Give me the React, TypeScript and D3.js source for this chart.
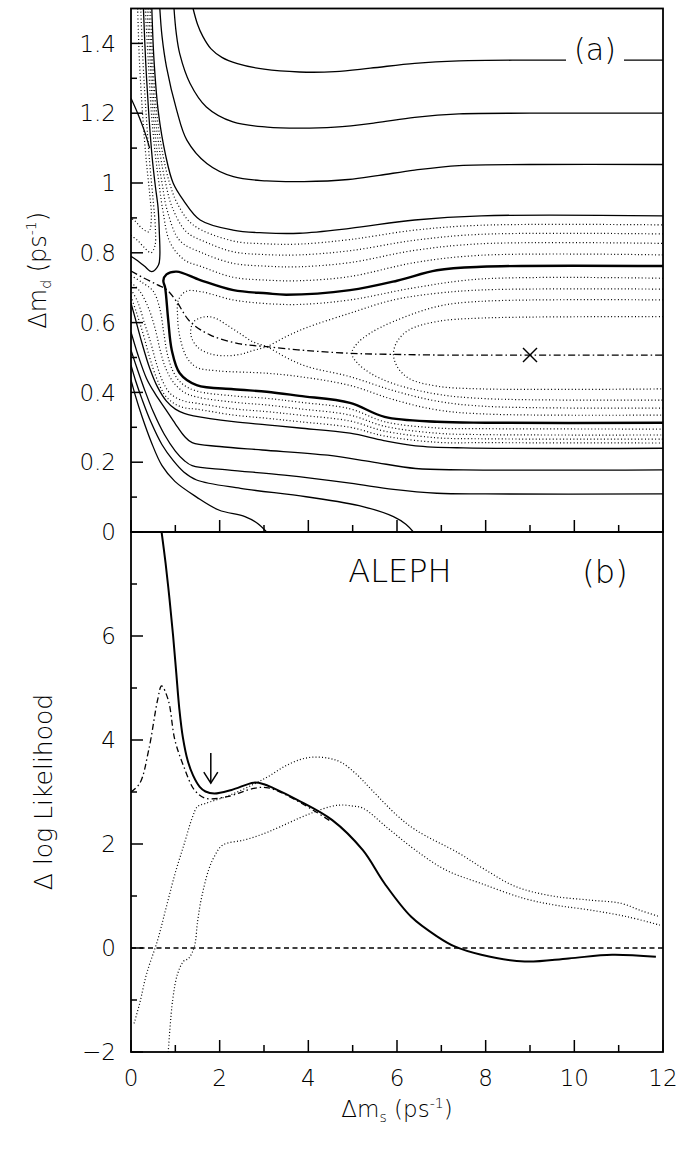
import React from "react";
import * as d3 from "d3";

type P = [number, number];

// ---------- axes ----------
const xMajorTicks = [0, 2, 4, 6, 8, 10, 12];
const xMinorTicks = [1, 3, 5, 7, 9, 11];
const topYMajor = [0, 0.2, 0.4, 0.6, 0.8, 1.0, 1.2, 1.4];
const topYLabels = ["0", "0.2", "0.4", "0.6", "0.8", "1", "1.2", "1.4"];
const topYMinor = [0.1, 0.3, 0.5, 0.7, 0.9, 1.1, 1.3];
const botYMajor = [-2, 0, 2, 4, 6];
const botYLabels = ["\u22122", "0", "2", "4", "6"];
const botYMinor = [-1, 1, 3, 5, 7];

// ---------- panel (a): contour lines, [Δms, Δmd] ----------
const c135: P[] = [[1.40,1.5],[1.5,1.455],[1.62,1.42],[1.8,1.385],[2.05,1.36],[2.4,1.342],[3.0,1.326],[3.8,1.318],[4.6,1.319],[5.4,1.329],[6.4,1.343],[7.4,1.35],[9.0,1.352],[12,1.352]];
const c120: P[] = [[0.97,1.5],[1.02,1.43],[1.1,1.37],[1.33,1.286],[1.7,1.218],[2.3,1.175],[3.07,1.16],[3.8,1.157],[4.6,1.16],[5.5,1.172],[6.4,1.188],[7.4,1.198],[9,1.2],[12,1.2]];
const c105: P[] = [[0.65,1.5],[0.7,1.42],[0.8,1.333],[1.03,1.209],[1.26,1.123],[1.71,1.056],[2.31,1.018],[3.06,1.006],[3.9,1.004],[4.9,1.01],[5.6,1.022],[6.4,1.037],[7.4,1.05],[9,1.053],[12,1.053]];
const c090: P[] = [[0.47,1.5],[0.52,1.35],[0.62,1.2],[0.78,1.08],[0.95,1.0],[1.18,0.951],[1.56,0.894],[2.3,0.865],[3.0,0.857],[3.8,0.856],[4.94,0.87],[6.4,0.894],[7.9,0.906],[12,0.906]];
const d1: P[] = [[0.44,1.5],[0.49,1.35],[0.58,1.2],[0.72,1.08],[0.87,1.0],[1.05,0.94],[1.4,0.88],[2.3,0.834],[3.0,0.826],[3.8,0.825],[4.94,0.838],[6.4,0.865],[7.9,0.879],[12,0.88]];
const d2: P[] = [[0.40,1.5],[0.46,1.35],[0.54,1.2],[0.66,1.08],[0.78,1.0],[0.93,0.93],[1.25,0.86],[1.7,0.83],[2.3,0.803],[3.0,0.795],[3.8,0.794],[4.94,0.806],[6.4,0.836],[7.9,0.853],[12,0.854]];
const d3l: P[] = [[0.36,1.5],[0.43,1.35],[0.5,1.2],[0.6,1.08],[0.7,1.0],[0.82,0.92],[1.1,0.835],[1.6,0.8],[2.3,0.77],[3.0,0.762],[3.8,0.76],[4.94,0.772],[6.4,0.807],[7.9,0.826],[12,0.827]];
const d4: P[] = [[0.32,1.5],[0.39,1.35],[0.46,1.2],[0.55,1.08],[0.63,1.0],[0.72,0.92],[0.88,0.83],[1.2,0.78],[1.6,0.76],[2.3,0.73],[3.0,0.722],[3.8,0.72],[4.94,0.732],[6.4,0.772],[7.9,0.793],[12,0.794]];
const tongue: P[] = [[0.28,1.5],[0.33,1.35],[0.4,1.2],[0.48,1.07],[0.55,0.99],[0.61,0.93],[0.64,0.856],[0.65,0.79],[0.62,0.765],[0.47,0.746],[0.3,0.762],[0.15,0.777],[0.0,0.79]];
const g1: P[] = [[0.22,1.5],[0.27,1.35],[0.34,1.2],[0.42,1.06],[0.5,0.95],[0.55,0.87],[0.54,0.82],[0.45,0.8],[0.3,0.815],[0.15,0.835],[0,0.85]];
const g2: P[] = [[0.15,1.5],[0.19,1.35],[0.26,1.2],[0.34,1.07],[0.42,0.97],[0.46,0.9],[0.4,0.86],[0.25,0.87],[0.1,0.89],[0,0.9]];
const leftSolid: P[] = [[0,1.243],[0.15,1.2],[0.3,1.15],[0.42,1.1]];
const thickC: P[] = [[12,0.762],[7.9,0.76],[6.9,0.75],[6.0,0.72],[4.94,0.693],[3.5,0.68],[3.06,0.684],[2.31,0.693],[1.56,0.722],[1.03,0.746],[0.8,0.738],[0.73,0.72],[0.77,0.70],[0.84,0.607],[0.92,0.521],[1.1,0.455],[1.48,0.421],[2.31,0.409],[3.06,0.402],[3.8,0.39],[4.94,0.37],[5.72,0.33],[6.9,0.316],[8,0.313],[12,0.313]];
const e1: P[] = [[12,0.727],[7.9,0.725],[6.4,0.70],[4.94,0.665],[3.8,0.652],[3.0,0.655],[2.3,0.665],[1.6,0.688],[1.25,0.69],[1.07,0.665],[1.05,0.62],[1.1,0.56],[1.26,0.5],[1.48,0.472],[1.93,0.462],[3.06,0.455],[3.81,0.445],[4.94,0.42],[5.9,0.38],[6.9,0.35],[8,0.338],[12,0.335]];
const e2: P[] = [[12,0.696],[8,0.694],[6.9,0.684],[5.92,0.665],[4.94,0.627],[3.95,0.585],[3.5,0.56],[3.06,0.531],[2.75,0.52],[2.5,0.51],[2.17,0.505],[1.8,0.51],[1.5,0.53],[1.35,0.565],[1.4,0.6],[1.6,0.615],[1.85,0.615],[2.2,0.59],[2.5,0.565],[2.75,0.545],[3.06,0.531],[3.5,0.5],[3.95,0.475],[4.94,0.445],[5.92,0.405],[6.9,0.375],[8,0.36],[12,0.355]];
const e3: P[] = [[12,0.665],[7.9,0.661],[6.9,0.646],[5.92,0.603],[5.4,0.57],[5.1,0.54],[4.98,0.512],[5.1,0.485],[5.4,0.455],[5.92,0.425],[6.9,0.395],[8,0.382],[12,0.378]];
const e4: P[] = [[12,0.617],[7.9,0.613],[6.9,0.603],[6.27,0.579],[6.0,0.545],[5.92,0.51],[6.0,0.475],[6.27,0.44],[6.9,0.418],[7.9,0.41],[12,0.41]];
const f1: P[] = [[0,0.735],[0.25,0.715],[0.5,0.69],[0.65,0.64],[0.74,0.57],[0.82,0.51],[0.95,0.46],[1.15,0.425],[1.48,0.404],[2.31,0.39],[3.06,0.383],[3.8,0.372],[4.94,0.353],[5.72,0.316],[6.9,0.298],[8,0.296],[12,0.295]];
const f2: P[] = [[0,0.715],[0.2,0.69],[0.4,0.64],[0.55,0.58],[0.66,0.52],[0.78,0.47],[0.95,0.43],[1.2,0.4],[1.48,0.387],[2.31,0.372],[3.06,0.364],[3.8,0.353],[4.94,0.335],[5.72,0.303],[6.9,0.283],[8,0.279],[12,0.278]];
const f3: P[] = [[0,0.695],[0.15,0.66],[0.3,0.6],[0.45,0.54],[0.58,0.48],[0.72,0.43],[0.9,0.395],[1.2,0.375],[1.48,0.369],[2.31,0.353],[3.06,0.345],[3.8,0.335],[4.94,0.318],[5.72,0.289],[6.9,0.27],[8,0.267],[12,0.266]];
const f4: P[] = [[0,0.675],[0.12,0.63],[0.28,0.565],[0.42,0.5],[0.58,0.44],[0.75,0.395],[0.95,0.37],[1.2,0.356],[1.48,0.352],[2.31,0.335],[3.06,0.326],[3.8,0.316],[4.94,0.3],[5.72,0.275],[6.9,0.257],[8,0.256],[12,0.255]];
const c024: P[] = [[0,0.656],[0.1,0.61],[0.25,0.54],[0.42,0.47],[0.6,0.415],[0.8,0.375],[1.0,0.352],[1.2,0.34],[1.41,0.333],[2.31,0.316],[3.06,0.307],[3.8,0.298],[4.94,0.283],[5.7,0.262],[6.42,0.247],[7.5,0.241],[12,0.24]];
const c0178: P[] = [[0,0.573],[0.15,0.51],[0.35,0.44],[0.55,0.395],[0.79,0.35],[1.0,0.31],[1.2,0.275],[1.38,0.256],[2.0,0.245],[2.96,0.235],[4.44,0.22],[5.43,0.201],[6.42,0.182],[7.5,0.178],[12,0.178]];
const c0109: P[] = [[0,0.521],[0.12,0.475],[0.3,0.41],[0.5,0.345],[0.75,0.28],[1.0,0.232],[1.2,0.205],[1.38,0.19],[2.17,0.178],[3.46,0.163],[4.94,0.14],[5.92,0.122],[6.9,0.111],[8,0.109],[12,0.109]];
const cB: P[] = [[0,0.478],[0.1,0.435],[0.25,0.38],[0.45,0.315],[0.7,0.25],[0.95,0.205],[1.19,0.172],[1.48,0.149],[2.47,0.125],[3.95,0.101],[5.23,0.073],[5.92,0.044],[6.2,0.022],[6.37,0]];
const cA: P[] = [[0,0.436],[0.1,0.39],[0.25,0.33],[0.45,0.26],[0.7,0.19],[0.99,0.145],[1.48,0.1],[1.98,0.063],[2.57,0.044],[2.85,0.025],[3.06,0]];
const valley: P[] = [[0.0,0.748],[0.3,0.727],[0.6,0.708],[0.8,0.695],[1.03,0.66],[1.33,0.603],[1.78,0.565],[2.42,0.54],[3.06,0.531],[3.95,0.52],[4.93,0.512],[5.92,0.509],[7,0.507],[12,0.507]];
const bestFit: P = [9.0, 0.507];

// ---------- panel (b): Δ log Likelihood vs Δms ----------
const llSolid: P[] = [[0.69,8],[0.78,7.4],[0.87,6.7],[0.95,6.0],[1.02,5.3],[1.09,4.6],[1.17,4.05],[1.28,3.6],[1.4,3.32],[1.55,3.1],[1.68,3.01],[1.88,2.97],[2.27,3.04],[2.77,3.18],[3.0,3.15],[3.2,3.08],[3.75,2.85],[4.54,2.46],[5.23,1.88],[5.72,1.24],[6.32,0.6],[6.91,0.22],[7.3,0.03],[7.9,-0.13],[8.88,-0.26],[9.87,-0.2],[10.85,-0.13],[11.84,-0.17]];
const llDashDot: P[] = [[0,3.0],[0.2,3.17],[0.4,3.81],[0.6,4.77],[0.69,5.04],[0.84,4.77],[0.99,4.0],[1.19,3.49],[1.43,3.04],[1.68,2.88],[2.17,2.91],[2.77,3.07],[3.1,3.08],[3.75,2.83],[4.5,2.44]];
const llUpperDot: P[] = [[0.07,-1.45],[0.2,-1.05],[0.35,-0.5],[0.6,0.15],[0.8,0.8],[1.0,1.45],[1.2,2.0],[1.38,2.5],[1.5,2.72],[1.68,2.78],[2.2,2.93],[2.77,3.15],[3.1,3.3],[3.46,3.49],[3.8,3.62],[4.1,3.67],[4.45,3.65],[4.74,3.57],[5.1,3.33],[5.43,3.04],[6.0,2.55],[6.42,2.27],[7.4,1.82],[8.0,1.5],[8.68,1.18],[9.5,1.0],[10.36,0.92],[11.05,0.86],[11.5,0.72],[11.93,0.6]];
const llLowerDot: P[] = [[0.84,-2],[0.94,-1.0],[1.05,-0.5],[1.19,-0.25],[1.3,-0.2],[1.43,0.03],[1.5,0.5],[1.58,0.92],[1.75,1.5],[1.88,1.76],[2.07,1.98],[2.57,2.08],[3.0,2.2],[3.36,2.33],[3.8,2.5],[4.15,2.62],[4.5,2.72],[4.74,2.75],[5.0,2.73],[5.23,2.69],[5.8,2.3],[6.42,1.88],[7.1,1.5],[7.9,1.24],[8.88,0.95],[9.6,0.82],[10.36,0.73],[11.2,0.6],[11.93,0.44]];
const llZero: P[] = [[0,0],[12,0]];
const arrowAt = 1.8;
const arrowFrom = 3.75;
const arrowTo = 3.17;

type Style = "solid" | "thick" | "dotted" | "dashdot";
const topLines: { pts: P[]; s: Style }[] = [
  { pts: c135, s: "solid" }, { pts: c120, s: "solid" }, { pts: c105, s: "solid" }, { pts: c090, s: "solid" },
  { pts: d1, s: "dotted" }, { pts: d2, s: "dotted" }, { pts: d3l, s: "dotted" }, { pts: d4, s: "dotted" },
  { pts: tongue, s: "solid" }, { pts: g1, s: "dotted" }, { pts: g2, s: "dotted" }, { pts: leftSolid, s: "solid" },
  { pts: thickC, s: "thick" },
  { pts: e1, s: "dotted" }, { pts: e2, s: "dotted" }, { pts: e3, s: "dotted" }, { pts: e4, s: "dotted" },
  { pts: f1, s: "dotted" }, { pts: f2, s: "dotted" }, { pts: f3, s: "dotted" }, { pts: f4, s: "dotted" },
  { pts: c024, s: "solid" }, { pts: c0178, s: "solid" }, { pts: c0109, s: "solid" }, { pts: cB, s: "solid" }, { pts: cA, s: "solid" },
  { pts: valley, s: "dashdot" },
];

const styleOf = (s: Style) => {
  switch (s) {
    case "thick": return { strokeWidth: 2.4 };
    case "dotted": return { strokeWidth: 1.2, strokeDasharray: "1 2.4" };
    case "dashdot": return { strokeWidth: 1.3, strokeDasharray: "7 3 1.5 3" };
    default: return { strokeWidth: 1.3 };
  }
};

const FONT = "'DejaVu Sans', 'Liberation Sans', sans-serif";

export default function App() {
  const L = 131, R = 663, TT = 8.5, MID = 532, BB = 1052;
  const x = d3.scaleLinear().domain([0, 12]).range([L, R]);
  const yT = d3.scaleLinear().domain([0, 1.5]).range([MID, TT]);
  const yB = d3.scaleLinear().domain([-2, 8]).range([BB, MID]);
  const lineT = d3.line<P>().x((d) => x(d[0])).y((d) => yT(d[1])).curve(d3.curveCatmullRom.alpha(0.5));
  const lineB = d3.line<P>().x((d) => x(d[0])).y((d) => yB(d[1])).curve(d3.curveCatmullRom.alpha(0.5));

  const bx = x(bestFit[0]);
  const by = yT(bestFit[1]);
  const ax = x(arrowAt);

  return (
    <svg width={682} height={1149} style={{ position: "absolute", left: 0, top: 0, background: "#fff" }} fontFamily={FONT} fontWeight={300}>
      <defs>
        <clipPath id="clipTop"><rect x={L} y={TT} width={R - L} height={MID - TT} /></clipPath>
        <clipPath id="clipBot"><rect x={L} y={MID} width={R - L} height={BB - MID} /></clipPath>
      </defs>
      <rect x={0} y={0} width={682} height={1149} fill="#fff" />

      {/* panel (a) */}
      <g clipPath="url(#clipTop)" fill="none" stroke="#000">
        {topLines.map((l, i) => (
          <path key={i} d={lineT(l.pts) || ""} {...styleOf(l.s)} />
        ))}
        <line x1={bx - 7} y1={by - 7} x2={bx + 7} y2={by + 7} strokeWidth={1.4} />
        <line x1={bx - 7} y1={by + 7} x2={bx + 7} y2={by - 7} strokeWidth={1.4} />
      </g>
      <rect x={566} y={36} width={58} height={34} fill="#fff" />
      <text x={595} y={60} fontSize={30} textAnchor="middle">(a)</text>

      {/* panel (b) */}
      <g clipPath="url(#clipBot)" fill="none" stroke="#000">
        <path d={lineB(llZero) || ""} strokeWidth={1.5} strokeDasharray="5 3.5" />
        <path d={lineB(llUpperDot) || ""} strokeWidth={1.2} strokeDasharray="1 2.2" />
        <path d={lineB(llLowerDot) || ""} strokeWidth={1.2} strokeDasharray="1 2.2" />
        <path d={lineB(llDashDot) || ""} strokeWidth={1.3} strokeDasharray="6 3 1.5 3" />
        <path d={lineB(llSolid) || ""} strokeWidth={2} />
        <line x1={ax} y1={yB(arrowFrom)} x2={ax} y2={yB(arrowTo)} strokeWidth={1.5} />
        <path d={`M${ax - 7},${yB(arrowTo) - 11} L${ax},${yB(arrowTo)} L${ax + 7},${yB(arrowTo) - 11}`} strokeWidth={1.5} />
      </g>
      <text x={400} y={582} fontSize={32} textAnchor="middle">ALEPH</text>
      <text x={605} y={583} fontSize={32} textAnchor="middle">(b)</text>

      {/* frames */}
      <rect x={L} y={TT} width={R - L} height={MID - TT} fill="none" stroke="#000" strokeWidth={1.8} />
      <rect x={L} y={MID} width={R - L} height={BB - MID} fill="none" stroke="#000" strokeWidth={1.8} />

      {/* ticks */}
      <g stroke="#000" strokeWidth={1.5}>
        {[MID, BB].map((yy) => (
          <g key={yy}>
            {xMajorTicks.map((t) => <line key={"M" + t} x1={x(t)} x2={x(t)} y1={yy} y2={yy - 12} />)}
            {xMinorTicks.map((t) => <line key={"m" + t} x1={x(t)} x2={x(t)} y1={yy} y2={yy - 7} />)}
          </g>
        ))}
        {topYMajor.map((t) => <line key={"tY" + t} x1={L} x2={L + 12} y1={yT(t)} y2={yT(t)} />)}
        {topYMinor.map((t) => <line key={"ty" + t} x1={L} x2={L + 6} y1={yT(t)} y2={yT(t)} />)}
        {botYMajor.map((t) => <line key={"bY" + t} x1={L} x2={L + 12} y1={yB(t)} y2={yB(t)} />)}
        {botYMinor.map((t) => <line key={"by" + t} x1={L} x2={L + 6} y1={yB(t)} y2={yB(t)} />)}
      </g>

      {/* tick labels */}
      <g fontSize={23} fill="#000">
        {xMajorTicks.map((t) => (
          <text key={"xl" + t} x={x(t)} y={1086} textAnchor="middle">{t}</text>
        ))}
        {topYMajor.map((t, i) => (
          <text key={"tl" + t} x={116} y={yT(t)} dy="0.36em" textAnchor="end">{topYLabels[i]}</text>
        ))}
        {botYMajor.map((t, i) => (
          <text key={"bl" + t} x={116} y={yB(t)} dy="0.36em" textAnchor="end">{botYLabels[i]}</text>
        ))}
      </g>

      {/* axis titles */}
      <text x={397} y={1117} fontSize={23} textAnchor="middle">
        Δm<tspan dy={5} fontSize={14}>s</tspan><tspan dy={-5}>{"  (ps"}</tspan><tspan dy={-9} fontSize={14}>-1</tspan><tspan dy={9}>)</tspan>
      </text>
      <text transform={`translate(46,${(TT + MID) / 2}) rotate(-90)`} fontSize={24} textAnchor="middle">
        Δm<tspan dy={5} fontSize={14}>d</tspan><tspan dy={-5}>{"  (ps"}</tspan><tspan dy={-10} fontSize={14}>-1</tspan><tspan dy={10}>)</tspan>
      </text>
      <text transform={`translate(52,${(MID + BB) / 2}) rotate(-90)`} fontSize={25} textAnchor="middle">
        Δ log Likelihood
      </text>
    </svg>
  );
}
